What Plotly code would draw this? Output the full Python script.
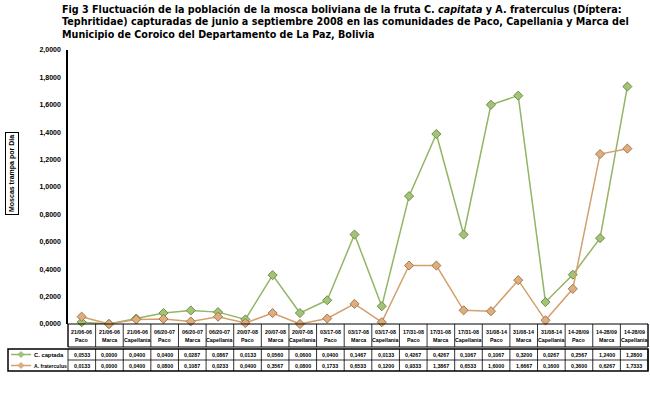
import plotly.graph_objects as go

# ---------------- data ----------------
dates = ["21/06-06", "21/06-06", "21/06-06", "06/20-07", "06/20-07", "06/20-07",
         "20/07-08", "20/07-08", "20/07-08", "03/17-08", "03/17-08", "03/17-08",
         "17/31-08", "17/31-08", "17/31-08", "31/08-14", "31/08-14", "31/08-14",
         "14-28/09", "14-28/09", "14-28/09"]
places = ["Paco", "Marca", "Capellania"] * 7

# plotted lines
green_line = [0.0133, 0.0, 0.0400, 0.0800, 0.0987, 0.0867, 0.0333, 0.3567, 0.0800, 0.1733,
              0.6533, 0.1300, 0.9333, 1.3867, 0.6533, 1.6000, 1.6667, 0.1600, 0.3600, 0.6267, 1.7333]
orange_line = [0.0533, 0.0, 0.0333, 0.0367, 0.0187, 0.0533, 0.0067, 0.0800, 0.0, 0.0400,
               0.1467, 0.0133, 0.4267, 0.4267, 0.1000, 0.0933, 0.3200, 0.0267, 0.2567, 1.2400, 1.2800]

# values printed in the data table
table_row1 = [0.0533, 0.0000, 0.0400, 0.0400, 0.0287, 0.0867, 0.0133, 0.0560, 0.0600, 0.0400,
              0.1467, 0.0133, 0.4267, 0.4267, 0.1067, 0.1067, 0.3200, 0.0267, 0.2567, 1.2400, 1.2800]
table_row2 = [0.0133, 0.0000, 0.0400, 0.0800, 0.1087, 0.0233, 0.0400, 0.3567, 0.0800, 0.1733,
              0.6533, 0.1200, 0.9333, 1.3867, 0.6533, 1.6000, 1.6667, 0.1600, 0.3600, 0.6267, 1.7333]

series_names = ["C. captada", "A. fraterculus"]
ytick_vals = [0.0, 0.2, 0.4, 0.6, 0.8, 1.0, 1.2, 1.4, 1.6, 1.8, 2.0]

# ---------------- layout constants ----------------
W, H = 650, 394
L, R, T, B = 68, 641, 50, 324
TR = 648  # table right edge
GREEN = "#93b564"
ORANGE = "#d3a06d"


def fmt(v):
    return f"{v:.4f}".replace(".", ",")


def px(x):
    return (x - L) / (R - L)


def py(y):
    return (B - y) / (B - T)


n = len(dates)
xs = list(range(n))

fig = go.Figure()
fig.add_trace(go.Scatter(
    x=xs, y=green_line, mode="lines+markers", name=series_names[0],
    line=dict(color=GREEN, width=1.5),
    marker=dict(symbol="diamond", size=7, color="#a3c27a", line=dict(color="#6f8f45", width=1)),
    cliponaxis=False))
fig.add_trace(go.Scatter(
    x=xs, y=orange_line, mode="lines+markers", name=series_names[1],
    line=dict(color=ORANGE, width=1.5),
    marker=dict(symbol="diamond", size=7, color="#dcae80", line=dict(color="#a8784a", width=1)),
    cliponaxis=False))

shapes = []
ann = []

# title
ann.append(dict(
    xref="paper", yref="paper", x=px(60), y=py(2), xanchor="left", yanchor="top",
    align="left", showarrow=False,
    text="<b>Fig 3 Fluctuación de la población de la mosca boliviana de la fruta C. <i>capitata</i> y A. fraterculus (Díptera:<br>"
         "Tephritidae) capturadas de junio a septiembre 2008 en las comunidades de Paco, Capellania y Marca del<br>"
         "Municipio de Coroico del Departamento de La Paz, Bolivia</b>",
    font=dict(family="DejaVu Sans", size=9.6, color="black")))

# y-axis title box
ann.append(dict(
    xref="paper", yref="paper", x=px(12), y=py(174), xanchor="center", yanchor="middle",
    textangle=-90, showarrow=False, text="<b>Moscas trampa por Dia</b>",
    font=dict(family="Liberation Sans", size=7, color="black"),
    bordercolor="black", borderwidth=1, borderpad=2, bgcolor="white"))

# table geometry
colw = (TR - L) / n
hdr_top, hdr_bot = 324, 347
d_top, d_mid, d_bot = 349, 360, 371

line_k = dict(color="black", width=1)
shapes.append(dict(type="rect", xref="paper", yref="paper", x0=px(L), x1=px(TR),
                   y0=py(hdr_top), y1=py(hdr_bot), line=line_k))
shapes.append(dict(type="rect", xref="paper", yref="paper", x0=px(8), x1=px(TR),
                   y0=py(d_top), y1=py(d_bot), line=dict(color="black", width=1.5)))
shapes.append(dict(type="line", xref="paper", yref="paper", x0=px(L), x1=px(TR),
                   y0=py(d_mid), y1=py(d_mid), line=dict(color="black", width=0.8)))
for i in range(n + 1):
    xx = L + i * colw
    shapes.append(dict(type="line", xref="paper", yref="paper", x0=px(xx), x1=px(xx),
                       y0=py(hdr_top), y1=py(hdr_bot), line=dict(color="black", width=0.8)))
    shapes.append(dict(type="line", xref="paper", yref="paper", x0=px(xx), x1=px(xx),
                       y0=py(d_top), y1=py(d_bot), line=dict(color="black", width=0.8)))

small = dict(family="Liberation Sans", size=5.3, color="black")
for i in range(n):
    cx = px(L + (i + 0.5) * colw)
    ann.append(dict(xref="paper", yref="paper", x=cx, y=py(332), xanchor="center", yanchor="middle",
                    showarrow=False, text="<b>" + dates[i] + "</b>", font=small))
    ann.append(dict(xref="paper", yref="paper", x=cx, y=py(340), xanchor="center", yanchor="middle",
                    showarrow=False, text="<b>" + places[i] + "</b>", font=small))
    ann.append(dict(xref="paper", yref="paper", x=cx, y=py(354.5), xanchor="center", yanchor="middle",
                    showarrow=False, text="<b>" + fmt(table_row1[i]) + "</b>", font=small))
    ann.append(dict(xref="paper", yref="paper", x=cx, y=py(365.5), xanchor="center", yanchor="middle",
                    showarrow=False, text="<b>" + fmt(table_row2[i]) + "</b>", font=small))

# legend keys in the table
for yy, col, mc, name, fs in [(354.5, GREEN, "#a3c27a", series_names[0], 5.8),
                              (365.5, ORANGE, "#dcae80", series_names[1], 5.1)]:
    shapes.append(dict(type="line", xref="paper", yref="paper", x0=px(11), x1=px(31),
                       y0=py(yy), y1=py(yy), line=dict(color=col, width=1.5)))
    shapes.append(dict(type="path", xref="paper", yref="paper",
                       path=f"M {px(21)} {py(yy-3)} L {px(24)} {py(yy)} L {px(21)} {py(yy+3)} L {px(18)} {py(yy)} Z",
                       fillcolor=mc, line=dict(color=col, width=0.8)))
    ann.append(dict(xref="paper", yref="paper", x=px(32), y=py(yy), xanchor="left", yanchor="middle",
                    showarrow=False, text="<b>" + name + "</b>",
                    font=dict(family="Liberation Sans", size=fs, color="black")))

fig.update_layout(
    width=W, height=H,
    margin=dict(l=L, r=W - R, t=T, b=H - B, pad=0),
    paper_bgcolor="white", plot_bgcolor="white",
    showlegend=False,
    shapes=shapes, annotations=ann,
    xaxis=dict(range=[-0.5, n - 0.5], showticklabels=False, showgrid=False, zeroline=False,
               showline=False, ticks=""),
    yaxis=dict(range=[0, 2], tickvals=ytick_vals, ticktext=["<b>" + fmt(v) + "</b>" for v in ytick_vals],
               tickfont=dict(family="Liberation Sans", size=7, color="black"),
               showgrid=False, zeroline=False, showline=True, linecolor="black", linewidth=1.5,
               ticks="", ticklabelstandoff=4),
)

fig.write_html("out.html", config={"displayModeBar": False},
               post_script="document.body.style.margin='0';document.body.style.padding='0';")
